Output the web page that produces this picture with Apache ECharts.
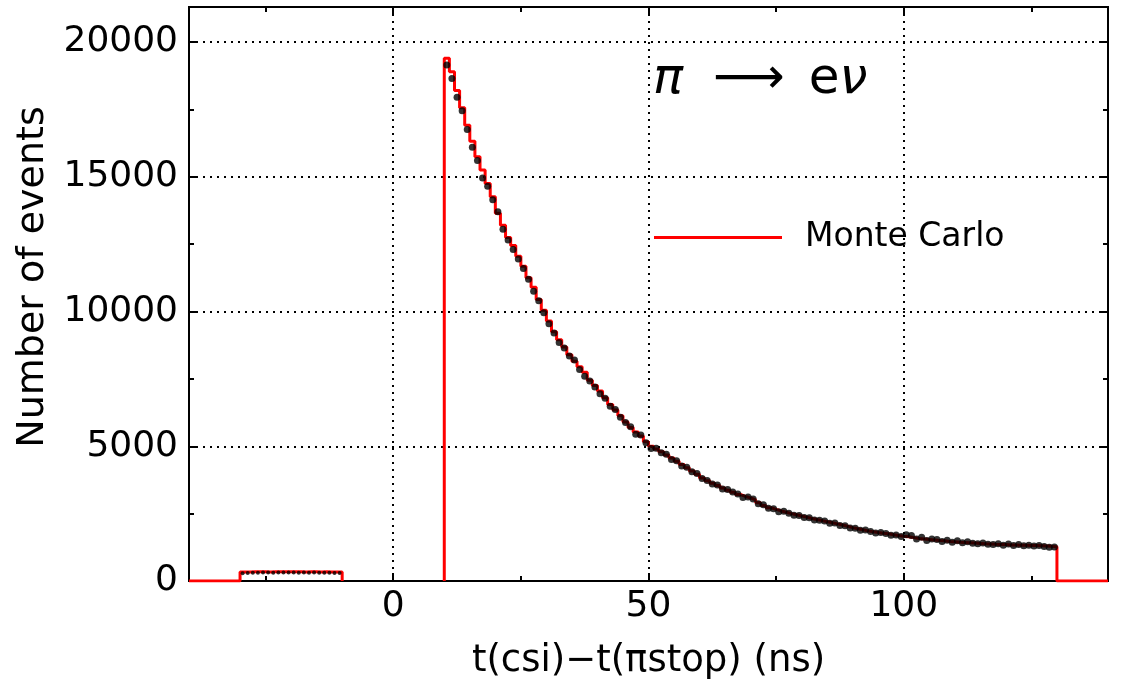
<!DOCTYPE html>
<html>
<head>
<meta charset="utf-8">
<script src="https://cdn.jsdelivr.net/npm/echarts@6/dist/echarts.min.js"></script>
<style>
  html, body { margin: 0; padding: 0; background: #fff; }
  #chart { width: 1121px; height: 685px; }
</style>
</head>
<body>
<div id="chart"></div>
<script>
// histogram bins, 1 ns wide
const binWidth = 1
const preStart = -30   // early window starts here
const mainStart = 10   // decay window starts here
const mainEnd = 130
const xMin = -40, xMax = 140
const yMin = 0, yMax = 21300

// Monte Carlo, early window (-30 .. -10 ns)
const mcPre = [335, 338, 340, 342, 340, 338, 341, 343, 340, 339,
               342, 340, 338, 341, 339, 337, 340, 338, 336, 338]
// data points, early window
const dataPre = [290, 300, 310, 305, 315, 320, 310, 318, 312, 320,
                 316, 310, 314, 308, 312, 306, 310, 304, 300, 296]

// Monte Carlo, decay window (10 .. 130 ns)
const mcMain = [
  19400, 18900, 18200, 17560, 16910, 16320, 15740, 15250, 14750, 14260,
  13650, 13200, 12750, 12450, 12050, 11680, 11250, 10900, 10450, 10050,
  9650, 9250, 8950, 8680, 8400, 8150, 7950, 7750, 7450, 7250,
  7050, 6800, 6550, 6350, 6130, 5900, 5700, 5530, 5380, 5170,
  5000, 4900, 4800, 4680, 4560, 4440, 4320, 4200, 4080, 3960,
  3820, 3720, 3630, 3540, 3450, 3370, 3290, 3210, 3140, 3080,
  3010, 2900, 2800, 2720, 2660, 2600, 2550, 2500, 2460, 2410,
  2370, 2320, 2280, 2240, 2200, 2160, 2120, 2080, 2030, 1980,
  1940, 1900, 1860, 1830, 1800, 1770, 1750, 1720, 1690, 1660,
  1640, 1610, 1580, 1560, 1540, 1520, 1500, 1490, 1470, 1460,
  1440, 1430, 1420, 1410, 1395, 1380, 1370, 1360, 1355, 1350,
  1340, 1335, 1330, 1325, 1320, 1315, 1305, 1295, 1285, 1270
]
// data points, decay window
const dataMain = [
  19150, 18650, 17950, 17450, 16750, 16100, 15600, 14950, 14650, 14150,
  13700, 13050, 12650, 12300, 11950, 11600, 11200, 10750, 10400, 9950,
  9550, 9200, 8850, 8650, 8350, 8200, 7850, 7600, 7420, 7200,
  6950, 6780, 6480, 6360, 6080, 5880, 5720, 5450, 5420, 5130,
  4920, 4930, 4760, 4700, 4510, 4460, 4270, 4220, 4050, 3990,
  3800, 3730, 3600, 3560, 3410, 3400, 3300, 3230, 3100, 3120,
  3040, 2870, 2830, 2700, 2680, 2570, 2590, 2510, 2440, 2430,
  2360, 2350, 2260, 2250, 2230, 2140, 2150, 2060, 2050, 1970,
  1960, 1880, 1890, 1840, 1780, 1800, 1760, 1700, 1710, 1650,
  1720, 1690, 1560, 1620, 1500, 1560, 1540, 1470, 1510, 1440,
  1490, 1420, 1460, 1400, 1380, 1410, 1360, 1350, 1380, 1330,
  1370, 1320, 1350, 1310, 1330, 1300, 1320, 1280, 1250, 1260
]

const xMajorTicks = [0, 50, 100]
const xMinorTicks = [-25, 25, 75, 125]
const yMajorTicks = [0, 5000, 10000, 15000, 20000]
const yMinorTicks = [2500, 7500, 12500, 17500]

const font = 'DejaVu Sans'

// step outline: each bin drawn from its left edge
const preLine = [[xMin, 0]]
  .concat(mcPre.map((v, i) => [preStart + i * binWidth, v]))
  .concat([[preStart + mcPre.length * binWidth, 0]])
const mainLine = [[mainStart, 0]]
  .concat(mcMain.map((v, i) => [mainStart + i * binWidth, v]))
  .concat([[mainEnd, 0], [xMax, 0]])
const preDots = dataPre.map((v, i) => [preStart + (i + 0.5) * binWidth, v])
const mainDots = dataMain.map((v, i) => [mainStart + (i + 0.5) * binWidth, v])

const gridLine = { show: true, lineStyle: { color: '#000', width: 2, type: [2, 5] } }

function xAx(pos, ticks, len, labels, split) {
  return {
    type: 'value', position: pos, min: xMin, max: xMax,
    axisLine: { show: false, onZero: false },
    axisTick: { show: true, inside: true, length: len, customValues: ticks, lineStyle: { color: '#000', width: 2 } },
    axisLabel: labels ? { show: true, customValues: ticks, formatter: v => String(v), fontFamily: font, fontSize: 36, color: '#000', margin: 8 } : { show: false },
    splitLine: split ? gridLine : { show: false }
  }
}
function yAx(pos, ticks, len, labels, split) {
  return {
    type: 'value', position: pos, min: yMin, max: yMax,
    axisLine: { show: false, onZero: false },
    axisTick: { show: true, inside: true, length: len, customValues: ticks, lineStyle: { color: '#000', width: 2 } },
    axisLabel: labels ? { show: true, customValues: ticks, formatter: v => String(v), fontFamily: font, fontSize: 36, color: '#000', margin: 11 } : { show: false },
    splitLine: split ? gridLine : { show: false }
  }
}

const chart = echarts.init(document.getElementById('chart'))
const xMainAxis = xAx('bottom', xMajorTicks, 8, true, true)
xMainAxis.name = 't(csi)\u2212t(\u03c0stop) (ns)'
xMainAxis.nameLocation = 'middle'
xMainAxis.nameGap = 62
xMainAxis.nameTextStyle = { fontFamily: font, fontSize: 37, color: '#000' }
const yMainAxis = yAx('left', yMajorTicks, 8, true, true)
yMainAxis.name = 'Number of events'
yMainAxis.nameLocation = 'middle'
yMainAxis.nameGap = 120
yMainAxis.nameTextStyle = { fontFamily: font, fontSize: 38, color: '#000', padding: [0, 0, 0, 34] }

const plain = { fontFamily: font, fontWeight: 'normal', fontSize: 50, color: '#000' }

chart.setOption({
  animation: false,
  backgroundColor: '#fff',
  title: {
    left: 648, top: 50,
    text: '{p|\u03c0}{a|\u27f6}{e|e}{p|\u03bd}',
    textStyle: {
      fontWeight: 'normal',
      rich: {
        p: Object.assign({}, plain, { fontStyle: 'italic' }),
        a: Object.assign({}, plain, { padding: [0, 24, 0, 30] }),
        e: plain
      }
    }
  },
  legend: {
    data: ['Monte Carlo'],
    left: 649, top: 216,
    icon: 'rect', itemWidth: 128, itemHeight: 3,
    itemGap: 0,
    textStyle: { fontFamily: font, fontSize: 33, color: '#000', padding: [0, 0, 22, 18] }
  },
  grid: { left: 189, right: 13, top: 7, bottom: 102, show: true, borderColor: '#000', borderWidth: 2, backgroundColor: 'transparent' },
  xAxis: [
    xMainAxis,
    xAx('bottom', xMinorTicks, 5, false, false),
    xAx('top', xMajorTicks, 8, false, false),
    xAx('top', xMinorTicks, 5, false, false)
  ],
  yAxis: [
    yMainAxis,
    yAx('left', yMinorTicks, 5, false, false),
    yAx('right', yMajorTicks, 8, false, false),
    yAx('right', yMinorTicks, 5, false, false)
  ],
  series: [
    {
      name: 'Monte Carlo', type: 'line', step: 'end', data: preLine,
      showSymbol: false, lineStyle: { color: '#ff0000', width: 3 }, itemStyle: { color: '#ff0000' }, z: 2
    },
    {
      name: 'Monte Carlo', type: 'line', step: 'end', data: mainLine,
      showSymbol: false, lineStyle: { color: '#ff0000', width: 3 }, itemStyle: { color: '#ff0000' }, z: 2
    },
    {
      name: 'Data', type: 'scatter', data: preDots, symbolSize: 4,
      itemStyle: { color: '#000' }, z: 3
    },
    {
      name: 'Data', type: 'scatter', data: mainDots, symbolSize: 7,
      itemStyle: { color: '#000' }, z: 3
    }
  ]
})
</script>
</body>
</html>
